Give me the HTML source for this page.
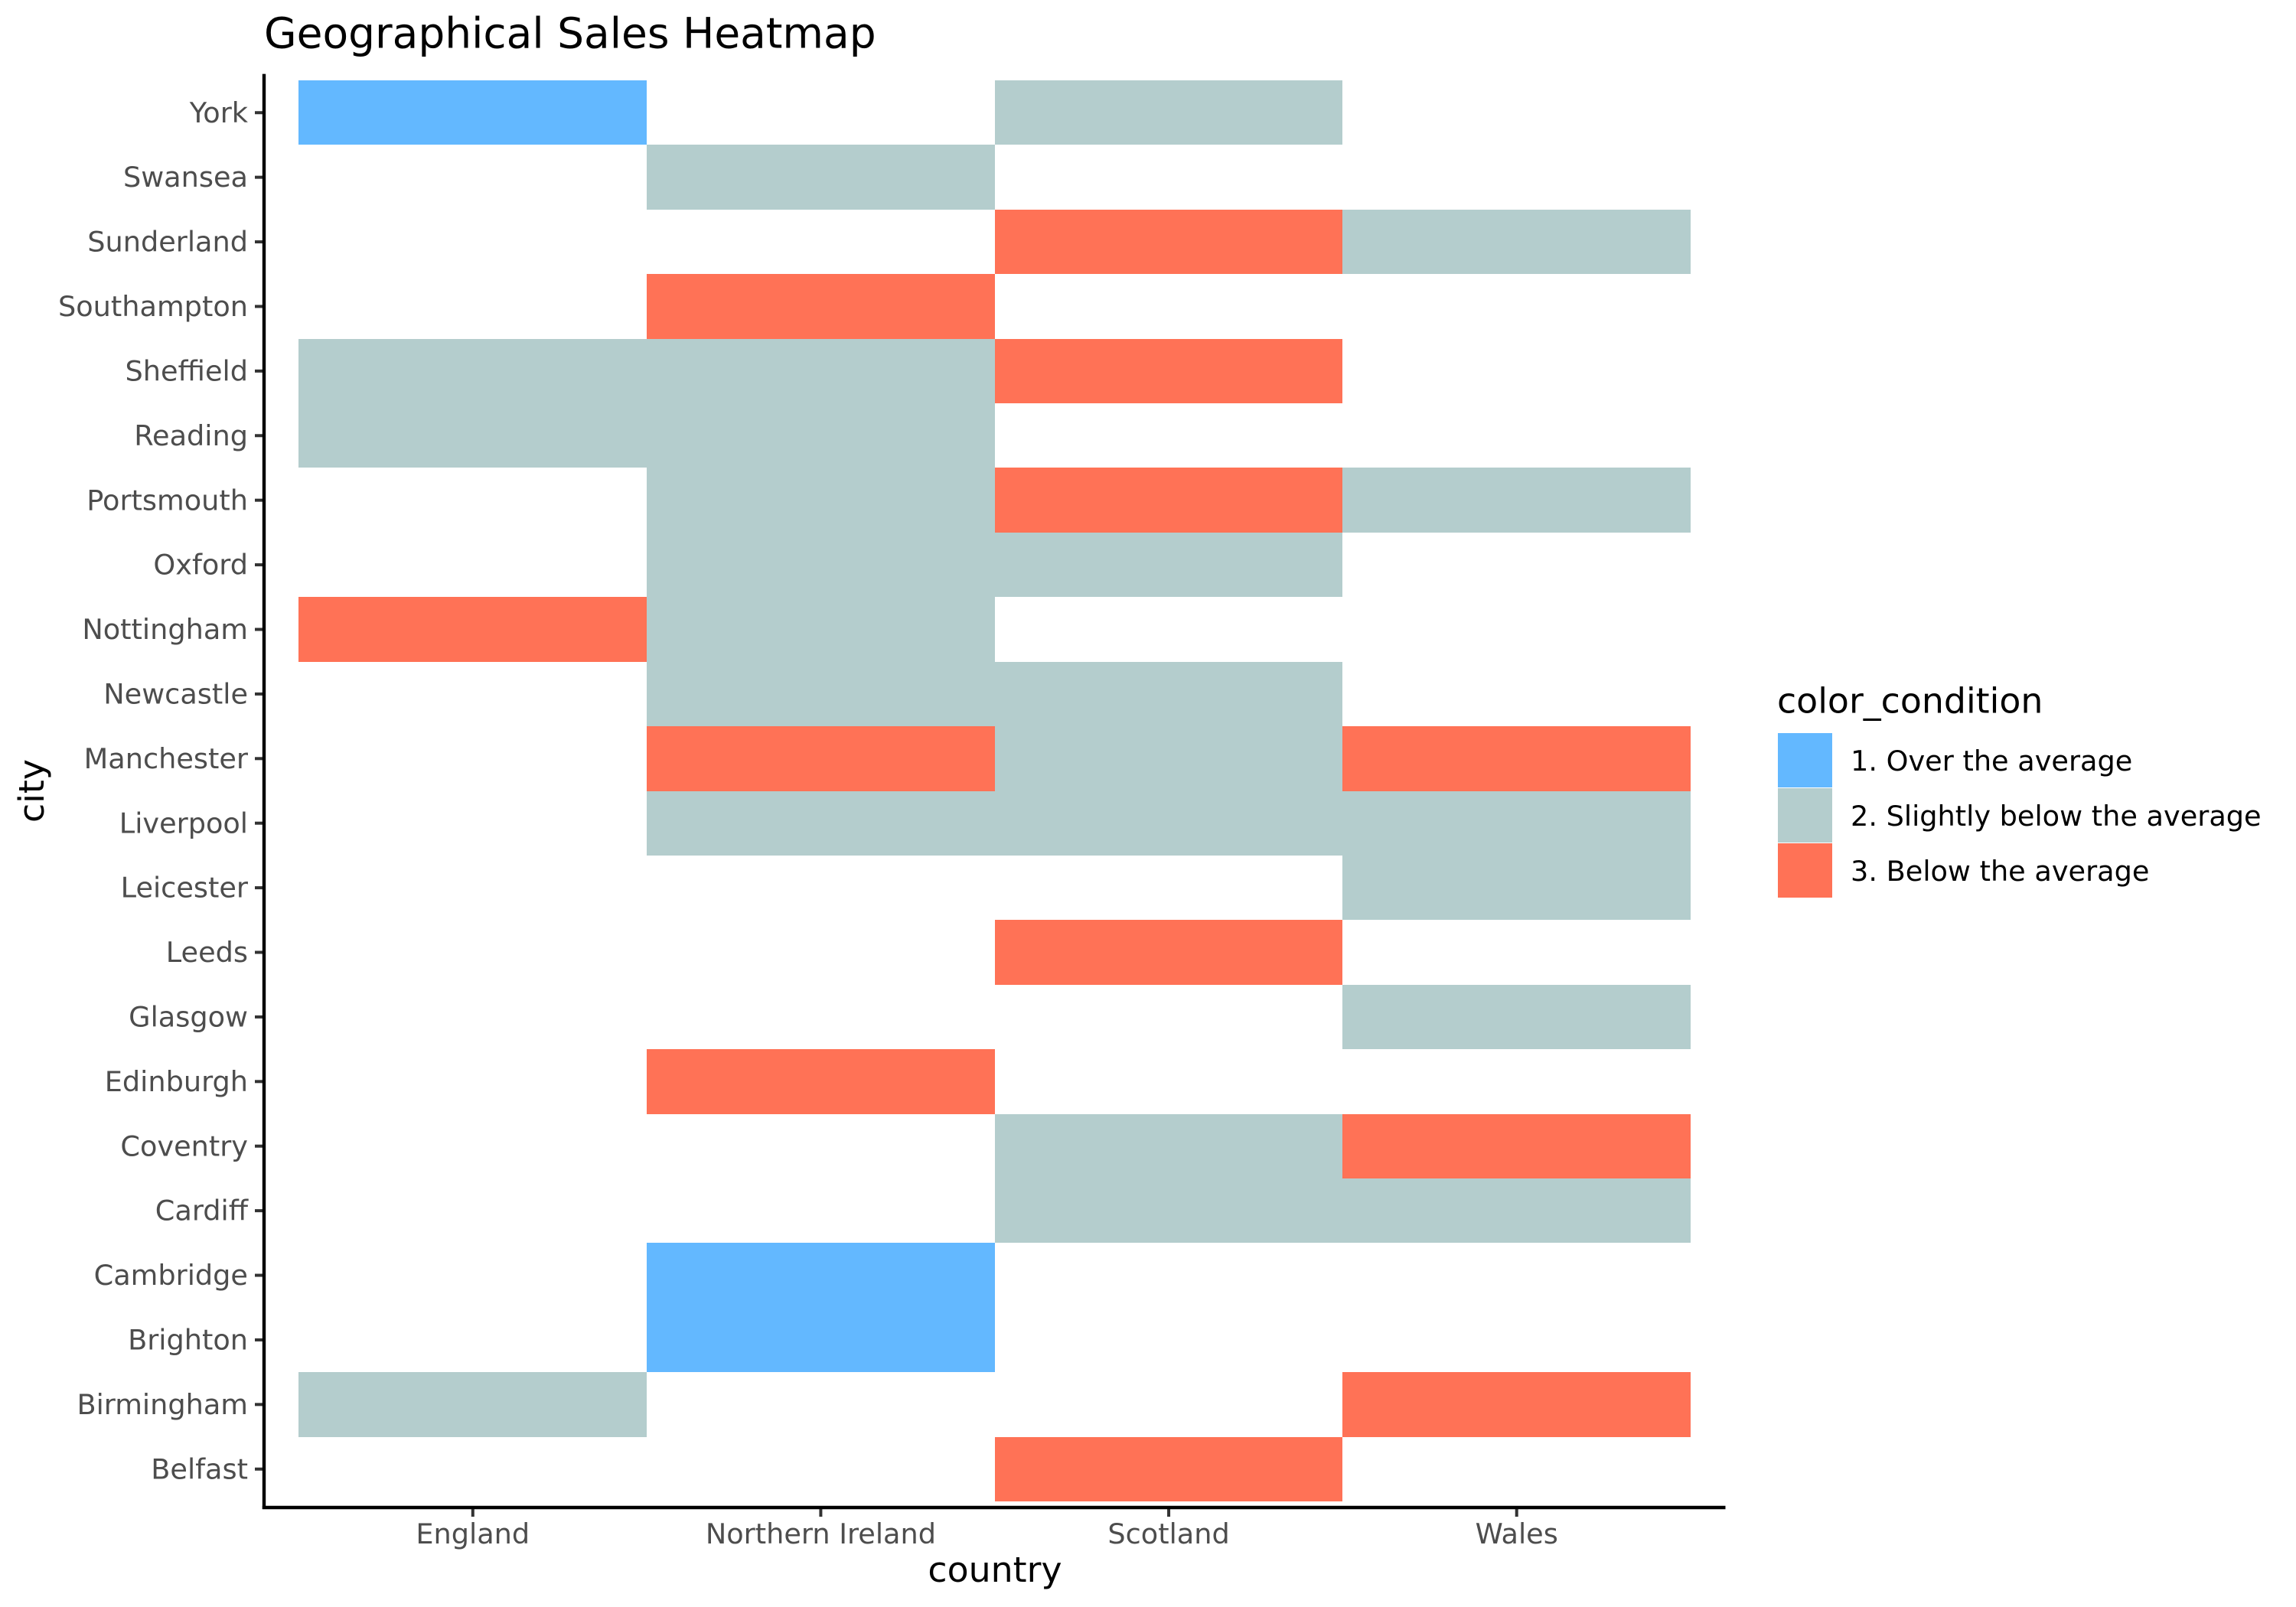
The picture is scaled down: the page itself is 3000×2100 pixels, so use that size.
<!DOCTYPE html>
<html lang="en">
<head>
<meta charset="utf-8">
<title>Geographical Sales Heatmap</title>
<style>
  html, body { margin: 0; padding: 0; background: #ffffff; width: 3000px; height: 2100px; overflow: hidden; }
  svg { display: block; }
  text { font-family: "DejaVu Sans", "Liberation Sans", sans-serif; }
</style>
</head>
<body>
<svg id="chart" xmlns="http://www.w3.org/2000/svg" width="3000" height="2100" viewBox="0 0 3000 2100">
  <rect x="0" y="0" width="3000" height="2100" fill="#ffffff"/>
  <g id="cells"></g>
  <g id="y-ticks"></g>
  <g id="x-ticks"></g>
  <line x1="345" y1="96.6" x2="345" y2="1972" stroke="#000000" stroke-width="4.4"/>
  <line x1="342.8" y1="1970" x2="2254.5" y2="1970" stroke="#000000" stroke-width="4.4"/>
  <text x="345" y="62.5" font-size="55" fill="#000000">Geographical Sales Heatmap</text>
  <text x="1300" y="2067" font-size="45.8" fill="#000000" text-anchor="middle">country</text>
  <text transform="translate(57 1033.5) rotate(-90)" font-size="45.8" fill="#000000" text-anchor="middle">city</text>
  <text x="2322" y="931.5" font-size="45.8" fill="#000000">color_condition</text>
  <g id="legend"></g>
</svg>
<script>
// ---- chart data ----
const cities = ["York", "Swansea", "Sunderland", "Southampton", "Sheffield", "Reading", "Portsmouth", "Oxford", "Nottingham", "Newcastle", "Manchester", "Liverpool", "Leicester", "Leeds", "Glasgow", "Edinburgh", "Coventry", "Cardiff", "Cambridge", "Brighton", "Birmingham", "Belfast"];
const countries = ["England", "Northern Ireland", "Scotland", "Wales"];
const conditionLabels = ["1. Over the average", "2. Slightly below the average", "3. Below the average"];
const conditionColors = ["#63B8FF", "#B4CDCD", "#FF7256"];
// Condition per city, in the order of `cities`: 0 = no data, 1..3 = index into conditionLabels + 1
const englandValues  = [1, 0, 0, 0, 2, 2, 0, 0, 3, 0, 0, 0, 0, 0, 0, 0, 0, 0, 0, 0, 2, 0];
const irelandValues  = [0, 2, 0, 3, 2, 2, 2, 2, 2, 2, 3, 2, 0, 0, 0, 3, 0, 0, 1, 1, 0, 0];
const scotlandValues = [2, 0, 3, 0, 3, 0, 3, 2, 0, 2, 2, 2, 0, 3, 0, 0, 2, 2, 0, 0, 0, 3];
const walesValues    = [0, 0, 2, 0, 0, 0, 2, 0, 0, 0, 3, 2, 2, 0, 2, 0, 3, 2, 0, 0, 3, 0];
const countryValues = [englandValues, irelandValues, scotlandValues, walesValues];

// ---- axis functions ----
const SVG_NS = "http://www.w3.org/2000/svg";
const panelLeft = 345, panelRight = 2254.5, panelTop = 96.6, panelBottom = 1970.4;
const expand = 0.6;
function xUnit() { return (panelRight - panelLeft) / (countries.length - 1 + 2 * expand); }
function yUnit() { return (panelBottom - panelTop) / (cities.length - 1 + 2 * expand); }
function xScale(i) { return panelLeft + (i + expand) * xUnit(); }
function yScale(j) { return panelTop + (j + expand) * yUnit(); }
function make(tag, attrs) {
  const el = document.createElementNS(SVG_NS, tag);
  for (const k in attrs) el.setAttribute(k, attrs[k]);
  return el;
}
function slug(s) { return s.toLowerCase().replace(/[^a-z0-9]+/g, "-").replace(/^-|-$/g, ""); }

// ---- heatmap cells ----
const cellsGroup = document.getElementById("cells");
countries.forEach(function (country, i) {
  const values = countryValues[i];
  cities.forEach(function (city, j) {
    const v = values[j];
    if (!v) return;
    const x0 = Math.round(xScale(i - 0.5)), x1 = Math.round(xScale(i + 0.5));
    const y0 = Math.round(yScale(j - 0.5)), y1 = Math.round(yScale(j + 0.5));
    const cell = make("rect", { x: x0, y: y0, width: x1 - x0, height: y1 - y0, fill: conditionColors[v - 1], "shape-rendering": "crispEdges" });
    
    
    cellsGroup.appendChild(cell);
  });
});

// ---- y axis ticks and labels ----
const yTicks = document.getElementById("y-ticks");
cities.forEach(function (city, j) {
  const y = yScale(j);
  const tick = make("line", { x1: 333, x2: 345, y1: y, y2: y, stroke: "#333333", "stroke-width": 4 });
  
  
  yTicks.appendChild(tick);
  const label = make("text", { x: 324, y: y + 12.6, "font-size": 36.67, fill: "#4d4d4d", "text-anchor": "end" });
  
  
  label.textContent = city;
  yTicks.appendChild(label);
});

// ---- x axis ticks and labels ----
const xTicks = document.getElementById("x-ticks");
countries.forEach(function (country, i) {
  const x = xScale(i);
  const tick = make("line", { x1: x, x2: x, y1: 1970, y2: 1982, stroke: "#333333", "stroke-width": 4 });
  
  
  xTicks.appendChild(tick);
  const label = make("text", { x: x, y: 2017, "font-size": 36.67, fill: "#4d4d4d", "text-anchor": "middle" });
  
  
  label.textContent = country;
  xTicks.appendChild(label);
});

// ---- legend ----
const legendGroup = document.getElementById("legend");
conditionLabels.forEach(function (text, k) {
  const top = 958 + k * 72;
  const swatch = make("rect", { x: 2323, y: top, width: 71, height: 71, fill: conditionColors[k], "shape-rendering": "crispEdges" });
  
  
  legendGroup.appendChild(swatch);
  const label = make("text", { x: 2418, y: top + 49, "font-size": 36.67, fill: "#000000" });
  
  
  label.textContent = text;
  legendGroup.appendChild(label);
});
</script>
</body>
</html>
